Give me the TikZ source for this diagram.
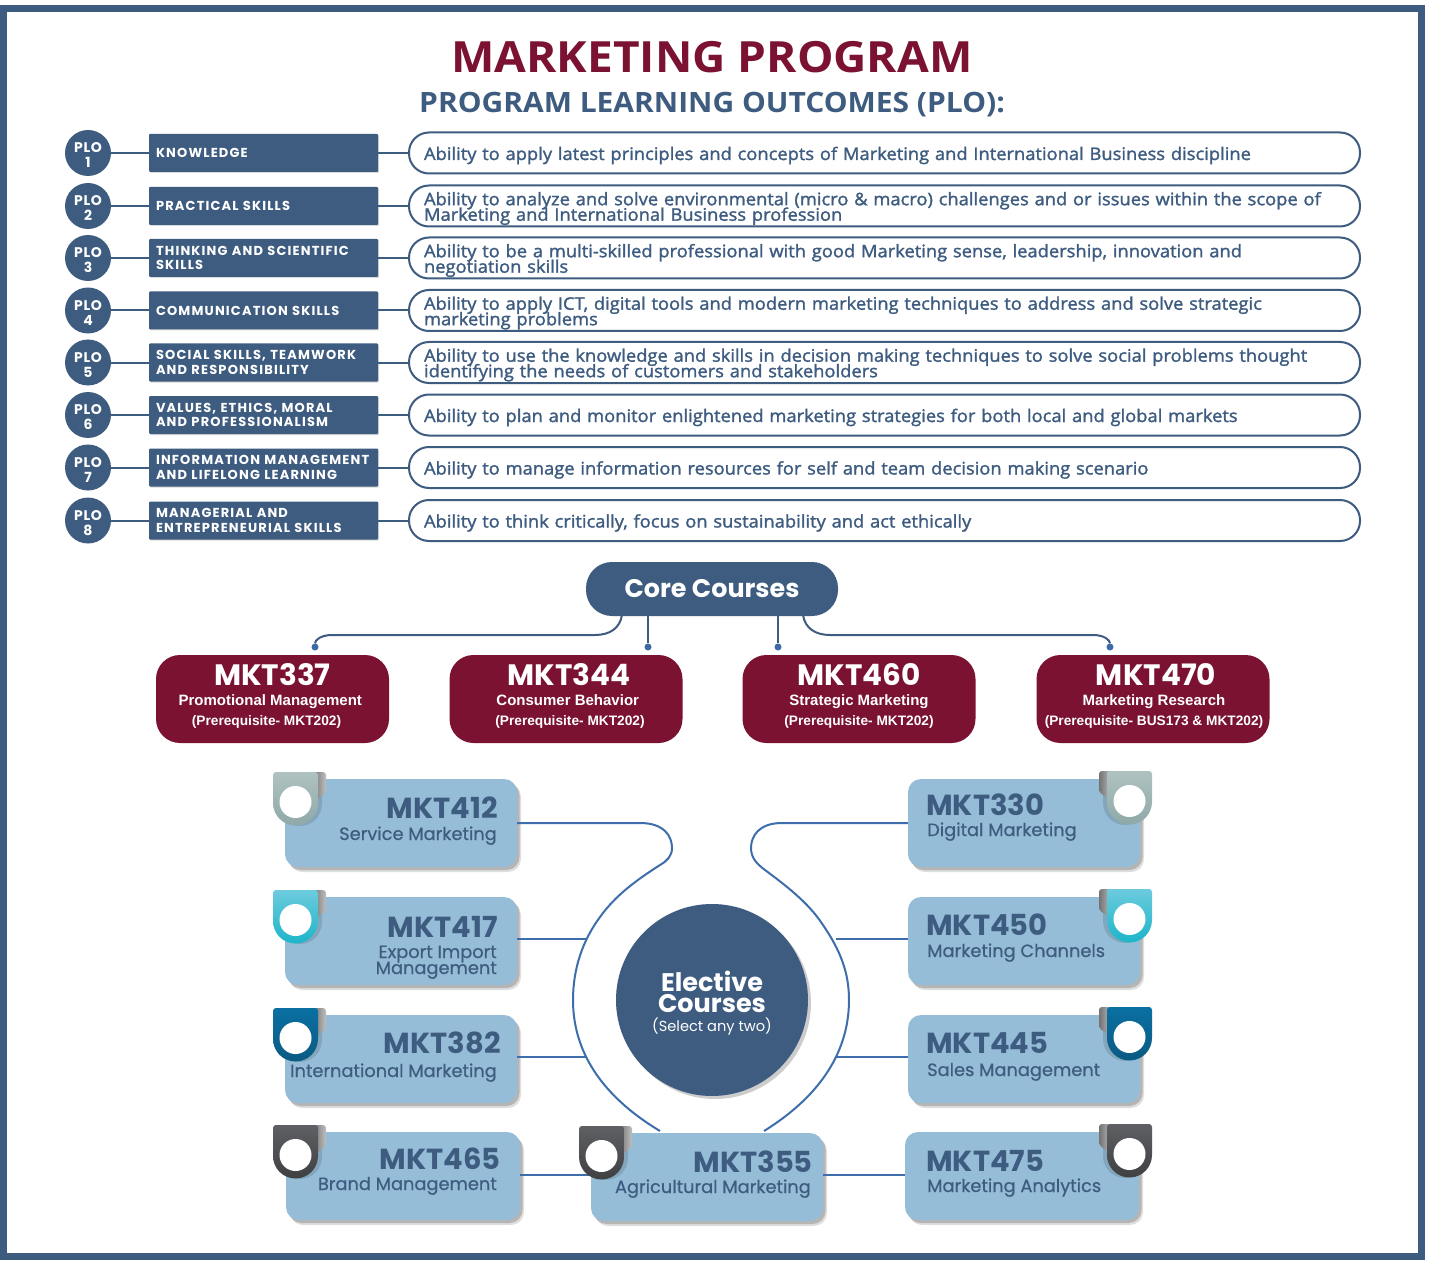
\documentclass[tikz,border=0pt]{standalone}
\usepackage{fontspec}
\usetikzlibrary{shadows}
\setmainfont{Open Sans}
\newfontfamily\headf{Open Sans}[FakeStretch=1.07]
\newfontfamily\abilf{Open Sans}[FakeBold=1.6,FakeStretch=1.06]
\newfontfamily\montf{Poppins}[LetterSpace=9]
\newfontfamily\plof{Poppins}[LetterSpace=4]
\newfontfamily\popf{Poppins}
\newfontfamily\namef{Poppins}[FakeBold=0.6]
\newfontfamily\arf{Liberation Sans}
\newcommand{\tightlines}{\lineskiplimit=-30pt\relax}
\newcommand{\nudged}[2]{\hspace*{#1pt}#2\hspace*{-#1pt}}
\definecolor{navy}{HTML}{3E5C80}
\definecolor{maroon}{HTML}{7B1232}
\definecolor{skyb}{HTML}{96BDD8}
\definecolor{wire}{HTML}{3D6EAB}
\definecolor{tgray}{HTML}{8FA9A8}
\definecolor{tgrayl}{HTML}{AFC2C0}
\definecolor{tteal}{HTML}{1DB5C9}
\definecolor{ttealL}{HTML}{6CCBDD}
\definecolor{tblue}{HTML}{0B5A82}
\definecolor{tblueL}{HTML}{0A70A2}
\definecolor{tdark}{HTML}{3F4042}
\definecolor{tdarkL}{HTML}{5E6064}
\tikzset{
  softshadow/.style={general shadow={shadow xshift=4pt,shadow yshift=-5pt,fill=black,opacity=.13},
                     general shadow={shadow xshift=2.5pt,shadow yshift=-3pt,fill=black,opacity=.18}},
  plocirc/.style={circle,fill=navy,minimum size=46pt,inner sep=0pt,align=center,text=white,
     font=\plof\bfseries\fontsize{14}{15}\selectfont\tightlines},
  plorect/.style={rectangle,fill=navy,minimum width=229pt,minimum height=38pt,inner xsep=7pt,inner ysep=0pt,
     text width=215pt,align=left,text=white,rounded corners=1pt,
     font=\montf\bfseries\fontsize{13}{14.5}\selectfont\tightlines,
     general shadow={shadow xshift=1pt,shadow yshift=-1pt,fill=black,opacity=.15}},
  plopill/.style={rectangle,draw=navy,line width=2pt,fill=white,rounded corners=20pt,minimum height=41pt,
     inner xsep=15pt,inner ysep=0pt,text width=921pt,align=left,text=navy,
     font=\abilf\fontsize{17.3}{15.5}\selectfont\tightlines},
  plolink/.style={draw=navy,line width=2pt},
  corebox/.style={rectangle,fill=maroon,rounded corners=24pt,minimum width=233pt,minimum height=88pt,
     inner sep=0pt,align=center,text=white,font=\fontsize{13}{20}\selectfont\tightlines},
  corehead/.style={rectangle,fill=navy,rounded corners=26pt,minimum width=252pt,minimum height=54pt,text=white,
     font=\popf\bfseries\fontsize{25.4}{26}\selectfont},
  corelink/.style={draw=navy,line width=2pt},
  coredot/.style={circle,fill=wire!80!navy,minimum size=7pt,inner sep=0pt},
  elbox/.style={rectangle,fill=skyb,rounded corners=13pt,minimum width=232pt,minimum height=88pt,inner sep=0pt,softshadow},
  elcode/.style={text=navy,inner sep=0pt,font=\popf\bfseries\fontsize{29}{30}\selectfont},
  elname/.style={text=navy,inner sep=0pt,align=right,font=\namef\fontsize{17.8}{16}\selectfont\tightlines},
  elnamel/.style={text=navy,inner sep=0pt,align=left,font=\namef\fontsize{17.8}{16}\selectfont\tightlines},
  wireline/.style={draw=wire,line width=2pt},
  hubnode/.style={circle,fill=navy,minimum size=192pt,inner sep=0pt,align=center,text=white,
     font=\fontsize{14}{21}\selectfont\tightlines,
     general shadow={shadow xshift=3pt,shadow yshift=-3pt,fill=black,opacity=.2}},
}
\newcommand{\plorow}[4]{%
  \node[plocirc] (c#1) at (88,#2) {\rule{0pt}{15pt}\rule[-1pt]{0pt}{0pt}PLO\\#1};
  \node[plorect] (r#1) at (263.5,#2) {#3};
  \node[plopill] (p#1) at (884.5,#2) {\rule{0pt}{19pt}#4\rule[-5pt]{0pt}{0pt}};
  \draw[plolink] (c#1) -- (r#1);
  \draw[plolink] (r#1) -- (p#1);
}
% tab: #1 x of the corner, #2 y of top, #3 direction (1 or -1), #4 top colour, #5 bottom colour
\newcommand{\eltab}[5]{%
  \begin{scope}[shift={(#1,#2)},xscale=#3]
    \fill[black,opacity=.12] (5,6) -- (49,6) -- (49,32) arc[start angle=0,end angle=180,x radius=22,y radius=22] -- cycle;
    \path[left color=black!55,right color=black!25] (40,0) -- (48,0) [rounded corners=3pt] -- (53,0) -- (53,21) [sharp corners] -- (45,27) -- (40,27) -- cycle;
    \path[top color=#4,bottom color=#5] [rounded corners=3pt] (0,31) -- (0,0) -- (45,0) [sharp corners] -- (45,31)
       arc[start angle=0,end angle=180,x radius=22.5,y radius=22.5] -- cycle;
    \fill[white] (22.5,30) circle[radius=16];
  \end{scope}
}
% code, name, prerequisite, each with a horizontal nudge
\newcommand{\corecontent}[6]{\rule{0pt}{22pt}\nudged{#4}{\popf\bfseries\fontsize{29.5}{20}\selectfont #1}\\\nudged{#5}{\arf\bfseries\fontsize{15}{20}\selectfont #2}\\\nudged{#6}{\arf\bfseries\fontsize{13.7}{20}\selectfont #3}\rule[-10pt]{0pt}{0pt}}
\begin{document}
\begin{tikzpicture}[x=1pt,y=-1pt]
\useasboundingbox (0,0) rectangle (1430,1265);
\fill[white] (0,0) rectangle (1430,1265);
\draw[navy,line width=7pt] (3,8.5) rectangle (1421.5,1256.5);

\node[inner sep=0pt,text=maroon] (title) at (712,57) {\headf\bfseries\fontsize{43}{46}\selectfont MARKETING PROGRAM};
\node[inner sep=0pt,text=navy] (subtitle) at (712,104.5) {\headf\bfseries\fontsize{28}{30}\selectfont PROGRAM LEARNING OUTCOMES (PLO):};

\plorow{1}{153}{KNOWLEDGE}{Ability to apply latest principles and concepts of Marketing and International Business discipline}
\plorow{2}{206}{PRACTICAL SKILLS}{Ability to analyze and solve environmental (micro \& macro) challenges and or issues within the scope of\\Marketing and International Business profession}
\plorow{3}{258}{THINKING AND SCIENTIFIC\\SKILLS}{Ability to be a multi-skilled professional with good Marketing sense, leadership, innovation and\\negotiation skills}
\plorow{4}{310.5}{COMMUNICATION SKILLS}{Ability to apply ICT, digital tools and modern marketing techniques to address and solve strategic\\marketing problems}
\plorow{5}{362.5}{SOCIAL SKILLS, TEAMWORK\\AND RESPONSIBILITY}{Ability to use the knowledge and skills in decision making techniques to solve social problems thought\\identifying the needs of customers and stakeholders}
\plorow{6}{415}{VALUES, ETHICS, MORAL\\AND PROFESSIONALISM}{Ability to plan and monitor enlightened marketing strategies for both local and global markets}
\plorow{7}{467.5}{INFORMATION MANAGEMENT\\AND LIFELONG LEARNING}{Ability to manage information resources for self and team decision making scenario}
\plorow{8}{520.5}{MANAGERIAL AND\\ENTREPRENEURIAL SKILLS}{Ability to think critically, focus on sustainability and act ethically}

% core
\node[corehead] (core) at (712,589) {Core Courses};
\node[corebox] (m337) at (272.5,699) {\corecontent{MKT337}{Promotional Management}{(Prerequisite- MKT202)}{0}{-4.5}{-6}};
\node[corebox] (m344) at (566,699) {\corecontent{MKT344}{Consumer Behavior}{(Prerequisite- MKT202)}{3}{3.5}{4}};
\node[corebox] (m460) at (859,699) {\corecontent{MKT460}{Strategic Marketing}{(Prerequisite- MKT202)}{0}{0}{0}};
\node[corebox] (m470) at (1153,699) {\corecontent{MKT470}{Marketing Research}{(Prerequisite- BUS173 \& MKT202)}{3}{2}{1}};
\node[coredot] (d337) at (315,647) {};
\node[coredot] (d344) at (648,647) {};
\node[coredot] (d460) at (778,647) {};
\node[coredot] (d470) at (1110,647) {};
\coordinate (cA) at (622,615);
\coordinate (cB) at (648,615);
\coordinate (cC) at (778,615);
\coordinate (cD) at (803,615);
\draw[corelink] (cA) .. controls (620,628) and (610,635) .. (595,635) -- (332,635) .. controls (321,635) and (315,640) .. (d337);
\draw[corelink] (cB) -- (d344);
\draw[corelink] (cC) -- (d460);
\draw[corelink] (cD) .. controls (805,628) and (815,635) .. (830,635) -- (1093,635) .. controls (1104,635) and (1110,640) .. (d470);

% elective wires
\coordinate (wL) at (586,939);
\coordinate (wLb) at (586,1057);
\coordinate (wR) at (836,939);
\coordinate (wRb) at (836,1057);
\coordinate (wy) at (0,1175);
\node[elbox] (b412) at (401,823) {};
\node[elbox] (b417) at (401,941) {};
\node[elbox] (b382) at (401,1059) {};
\node[elbox,minimum width=234pt] (b465) at (403,1176) {};
\node[elbox,minimum width=232pt] (b355) at (707,1177) {};
\node[elbox] (b330) at (1024,823) {};
\node[elbox] (b450) at (1024,941) {};
\node[elbox] (b445) at (1024,1059) {};
\node[elbox,minimum width=234pt] (b475) at (1022,1176) {};
\draw[wireline] (b412.east) -- (640,823) .. controls (664,823) and (672,836) .. (672,848) .. controls (672,856) and (667,861) .. (660,865)
  .. controls (635,881) and (615,896) .. (600,917) .. controls (583,940) and (573,968) .. (573,1000)
  .. controls (573,1050) and (600,1095) .. (660,1131);
\draw[wireline] (b330.west) -- (782,823) .. controls (759,823) and (751,836) .. (751,848) .. controls (751,858) and (757,864) .. (765,870)
  .. controls (785,885) and (808,902) .. (823,925) .. controls (840,950) and (849,972) .. (849,1000)
  .. controls (849,1050) and (822,1095) .. (764,1131);
\draw[wireline] ([yshift=2pt]b417.east) -- (wL);
\draw[wireline] ([yshift=2pt]b382.east) -- (wLb);
\draw[wireline] (b465.east |- wy) -- (b355.west |- wy);
\draw[wireline] ([yshift=2pt]b450.west) -- (wR);
\draw[wireline] ([yshift=2pt]b445.west) -- (wRb);
\draw[wireline] (b355.east |- wy) -- (b475.west |- wy);

% tabs
\eltab{273}{772}{1}{tgrayl}{tgray}
\eltab{273}{890}{1}{ttealL}{tteal}
\eltab{273}{1008}{1}{tblueL}{tblue}
\eltab{273}{1125}{1}{tdarkL}{tdark}
\eltab{579}{1126}{1}{tdarkL}{tdark}
\eltab{1152}{771}{-1}{tgrayl}{tgray}
\eltab{1152}{889}{-1}{ttealL}{tteal}
\eltab{1152}{1007}{-1}{tblueL}{tblue}
\eltab{1152}{1124}{-1}{tdarkL}{tdark}

% elective labels
\node[elcode,anchor=base east] (t412) at (498,818) {MKT412};
\node[elname,anchor=base east] (n412) at (497,840) {Service Marketing};
\node[elcode,anchor=base east] (t417) at (498,937) {MKT417};
\node[elname,anchor=base east] (n417) at (497,974) {Export Import\\Management};
\node[elcode,anchor=base east] (t382) at (501,1053) {MKT382};
\node[elname,anchor=base east] (n382) at (497,1077) {International Marketing};
\node[elcode,anchor=base east] (t465) at (501,1169) {MKT465};
\node[elname,anchor=base east] (n465) at (497,1190) {Brand Management};
\node[elcode,anchor=base east] (t355) at (813,1172) {MKT355};
\node[elname,anchor=base east] (n355) at (811,1193) {Agricultural Marketing};
\node[elcode,anchor=base west] (t330) at (926,815) {MKT330};
\node[elnamel,anchor=base west] (n330) at (927,836) {Digital Marketing};
\node[elcode,anchor=base west] (t450) at (926,935) {MKT450};
\node[elnamel,anchor=base west] (n450) at (927,957) {Marketing Channels};
\node[elcode,anchor=base west] (t445) at (926,1053) {MKT445};
\node[elnamel,anchor=base west] (n445) at (927,1076) {Sales Management};
\node[elcode,anchor=base west] (t475) at (926,1171) {MKT475};
\node[elnamel,anchor=base west] (n475) at (927,1192) {Marketing Analytics};

% elective hub
\node[hubnode] (hub) at (712,1000)
  {\rule{0pt}{27pt}{\popf\bfseries\fontsize{25.5}{21}\selectfont Elective}\\{\popf\bfseries\fontsize{25.5}{21}\selectfont Courses}\\[-2pt]{\popf\fontsize{14.6}{16}\selectfont (Select any two)}\rule[-5pt]{0pt}{0pt}};
\end{tikzpicture}
\end{document}
